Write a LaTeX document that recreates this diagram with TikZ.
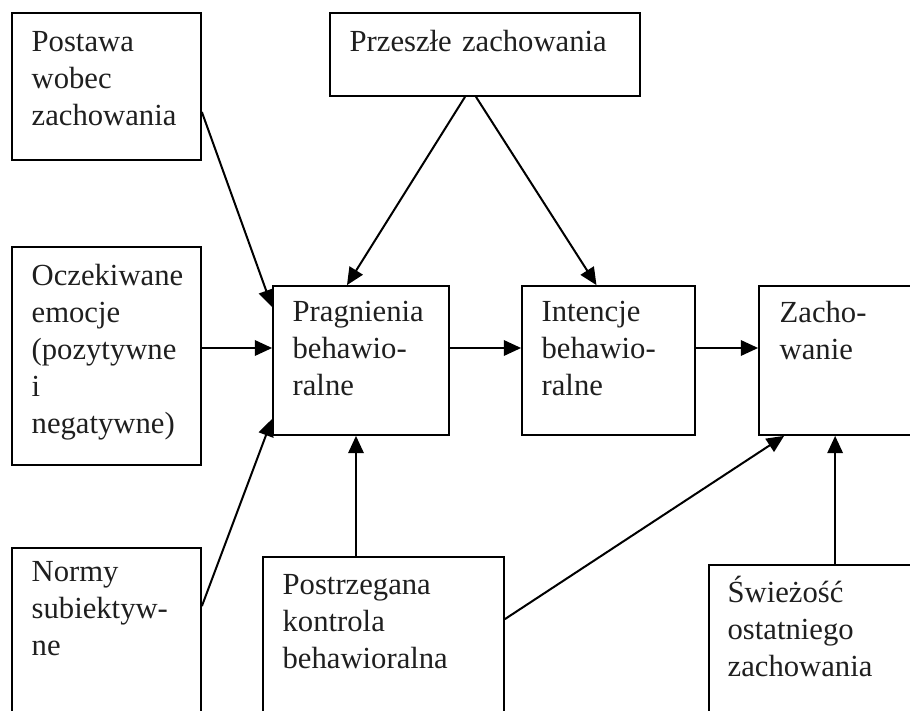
\documentclass[tikz,border=0pt]{standalone}
\usepackage{fontspec}
\setmainfont{Liberation Serif}
\usetikzlibrary{arrows.meta,fit}

\begin{document}
\begin{tikzpicture}[
  x=0.375pt, y=-0.375pt,
  font=\fontsize{11.5}{13.9}\selectfont,
  box/.style={draw, line width=0.65pt, inner sep=0pt},
  txt/.style={anchor=base west, inner sep=0pt, text width=120pt,
              align=left, text=black!88},
  arr/.style={-{Triangle[length=6.5pt, width=5.8pt]}, line width=0.75pt}]

\clip (0,0) rectangle (910,711);

% ---------------- boxes ---------------------------------------------------
\node[box, fit={(12,13) (201,160)}]   (postawa) {};
\node[box, fit={(330,13) (640,96)}]   (przeszle) {};
\node[box, fit={(12,247) (201,465)}]  (oczek) {};
\node[box, fit={(273,286) (449,435)}] (prag) {};
\node[box, fit={(522,286) (695,435)}] (intencje) {};
\node[box, fit={(759,286) (960,435)}] (zach) {};
\node[box, fit={(12,548) (201,760)}]  (normy) {};
\node[box, fit={(263,557) (504,760)}] (postr) {};
\node[box, fit={(709,565) (960,760)}] (swiez) {};

% ---------------- texts ---------------------------------------------------
\node[txt] (postawa-t)  at ([shift={(20,39)}]postawa.north west)
      {Postawa\\wobec\\zachowania};
\node[txt] (przeszle-t) at ([shift={(20,39)}]przeszle.north west)
      {Przeszłe zachowania};
\node[txt] (oczek-t)    at ([shift={(20,39)}]oczek.north west)
      {Oczekiwane\\emocje\\(pozytywne\\i\\negatywne)};
\node[txt] (prag-t)     at ([shift={(20,36)}]prag.north west)
      {Pragnienia\\behawio-\\ralne};
\node[txt] (intencje-t) at ([shift={(20,36)}]intencje.north west)
      {Intencje\\behawio-\\ralne};
\node[txt] (zach-t)     at ([shift={(21,37)}]zach.north west)
      {Zacho-\\wanie};
\node[txt] (normy-t)    at ([shift={(20,34)}]normy.north west)
      {Normy\\subiektyw-\\ne};
\node[txt] (postr-t)    at ([shift={(20,38)}]postr.north west)
      {Postrzegana\\kontrola\\behawioralna};
\node[txt] (swiez-t)    at ([shift={(19,38)}]swiez.north west)
      {Świeżość\\ostatniego\\zachowania};

% ---------------- arrows --------------------------------------------------
\draw[arr] ([shift={(0,25.5)}]postawa.east) -- ([shift={(0,22)}]prag.north west);
\draw[arr] ([shift={(-20,0)}]przeszle.south) -- ([shift={(-14,0)}]prag.north);
\draw[arr] ([shift={(-9,0)}]przeszle.south) -- ([shift={(-12,0)}]intencje.north);
\draw[arr] ([shift={(0,-8)}]oczek.east) -- ([shift={(0,-12.5)}]prag.west);
\draw[arr] ([shift={(0,59)}]normy.north east) -- ([shift={(0,-17)}]prag.south west);
\draw[arr] ([shift={(-5,0)}]prag.south |- postr.north) -- ([shift={(-5,0)}]prag.south);
\draw[arr] ([shift={(0,-12.5)}]prag.east) -- ([shift={(0,-12.5)}]intencje.west);
\draw[arr] ([shift={(0,-12.5)}]intencje.east) -- ([shift={(0,-12.5)}]intencje.east -| zach.west);
\draw[arr] ([shift={(0,63)}]postr.north east) -- ([shift={(26,0)}]zach.south west);
\draw[arr] ([shift={(77,0)}]zach.south west |- swiez.north) -- ([shift={(77,0)}]zach.south west);
\end{tikzpicture}
\end{document}
